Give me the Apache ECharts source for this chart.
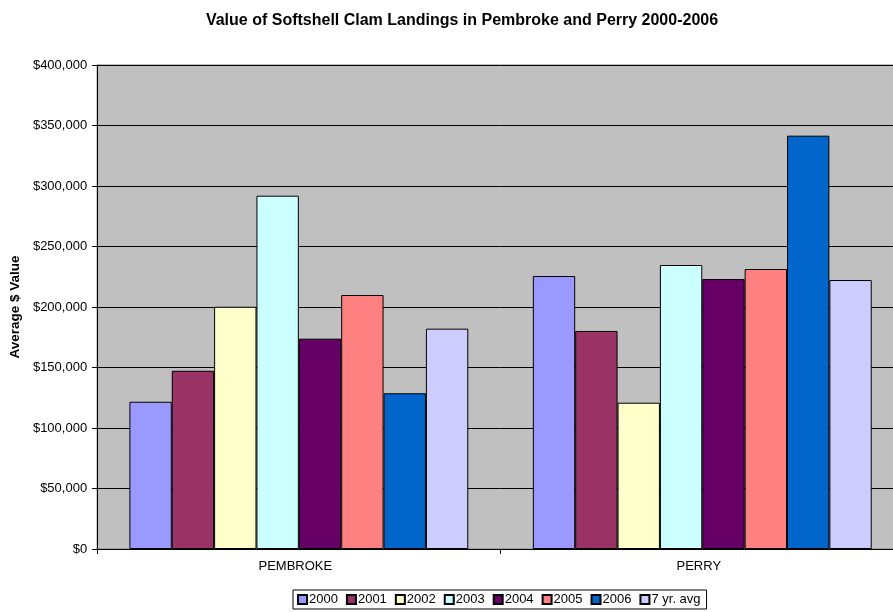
<!DOCTYPE html>
<html><head><meta charset="utf-8">
<script src="https://cdn.jsdelivr.net/npm/echarts@6/dist/echarts.min.js"></script>
<style>html,body{margin:0;padding:0;background:#fff;overflow:hidden;width:893px;height:612px}#c{width:910px;height:612px}</style>
</head><body><div id="c"></div>
<script>
const categories = ['PEMBROKE', 'PERRY'];
const seriesNames = ['2000', '2001', '2002', '2003', '2004', '2005', '2006', '7 yr. avg'];
const v2000 = [121700, 225600];
const v2001 = [147300, 180200];
const v2002 = [200200, 120900];
const v2003 = [292000, 234700];
const v2004 = [173800, 223100];
const v2005 = [209900, 231400];
const v2006 = [128700, 341600];
const vAvg = [182100, 222300];
const colors = ['#9999FF', '#993366', '#FFFFCC', '#CCFFFF', '#660066', '#FF8080', '#0066CC', '#CCCCFF'];
const allValues = [v2000, v2001, v2002, v2003, v2004, v2005, v2006, vAvg];

const chart = echarts.init(document.getElementById('c'));
const font = 'Arial, "Liberation Sans", sans-serif';
chart.setOption({
  animation: false,
  backgroundColor: '#fff',
  title: {
    text: 'Value of Softshell Clam Landings in Pembroke and Perry 2000-2006',
    left: 457, top: 8, textAlign: 'center',
    textStyle: { fontFamily: font, fontSize: 16, fontWeight: 'bold', color: '#000' }
  },
  legend: {
    data: seriesNames,
    left: 293, top: 590,
    orient: 'horizontal',
    icon: 'rect', itemWidth: 9, itemHeight: 9, itemGap: 8,
    borderColor: '#000', borderWidth: 1, padding: [3, 6, 3, 4],
    textStyle: { fontFamily: font, fontSize: 13, color: '#000', padding: [0, 0, 0, -3] }
  },
  grid: {
    left: 96, top: 65, width: 808, height: 484,
    show: true, backgroundColor: '#C0C0C0', borderColor: '#808080', borderWidth: 1,
    containLabel: false
  },
  xAxis: {
    type: 'category', data: categories,
    axisLine: { lineStyle: { color: '#000', width: 1 } },
    axisTick: { show: true, alignWithLabel: false, length: 5, lineStyle: { color: '#000' } },
    axisLabel: { fontFamily: font, fontSize: 13, color: '#000', margin: 11, padding: [0, 7, 0, 0] }
  },
  yAxis: {
    type: 'value', min: 0, max: 400000, interval: 50000,
    name: 'Average $ Value', nameLocation: 'middle', nameGap: 74,
    nameTextStyle: { fontFamily: font, fontSize: 13.5, fontWeight: 'bold', color: '#000' },
    axisLine: { show: true, lineStyle: { color: '#000' } },
    axisTick: { show: true, length: 5, inside: false, lineStyle: { color: '#000' } },
    axisLabel: {
      fontFamily: font, fontSize: 13, color: '#000', margin: 10,
      formatter: v => '$' + v.toLocaleString('en-US')
    },
    splitLine: { show: true, lineStyle: { color: '#000', width: 1 } }
  },
  series: seriesNames.map((n, i) => ({
    name: n, type: 'bar', data: allValues[i],
    barGap: '0%', barCategoryGap: '16%',
    itemStyle: { color: colors[i], borderColor: '#000', borderWidth: 1 }
  }))
});
</script></body></html>
